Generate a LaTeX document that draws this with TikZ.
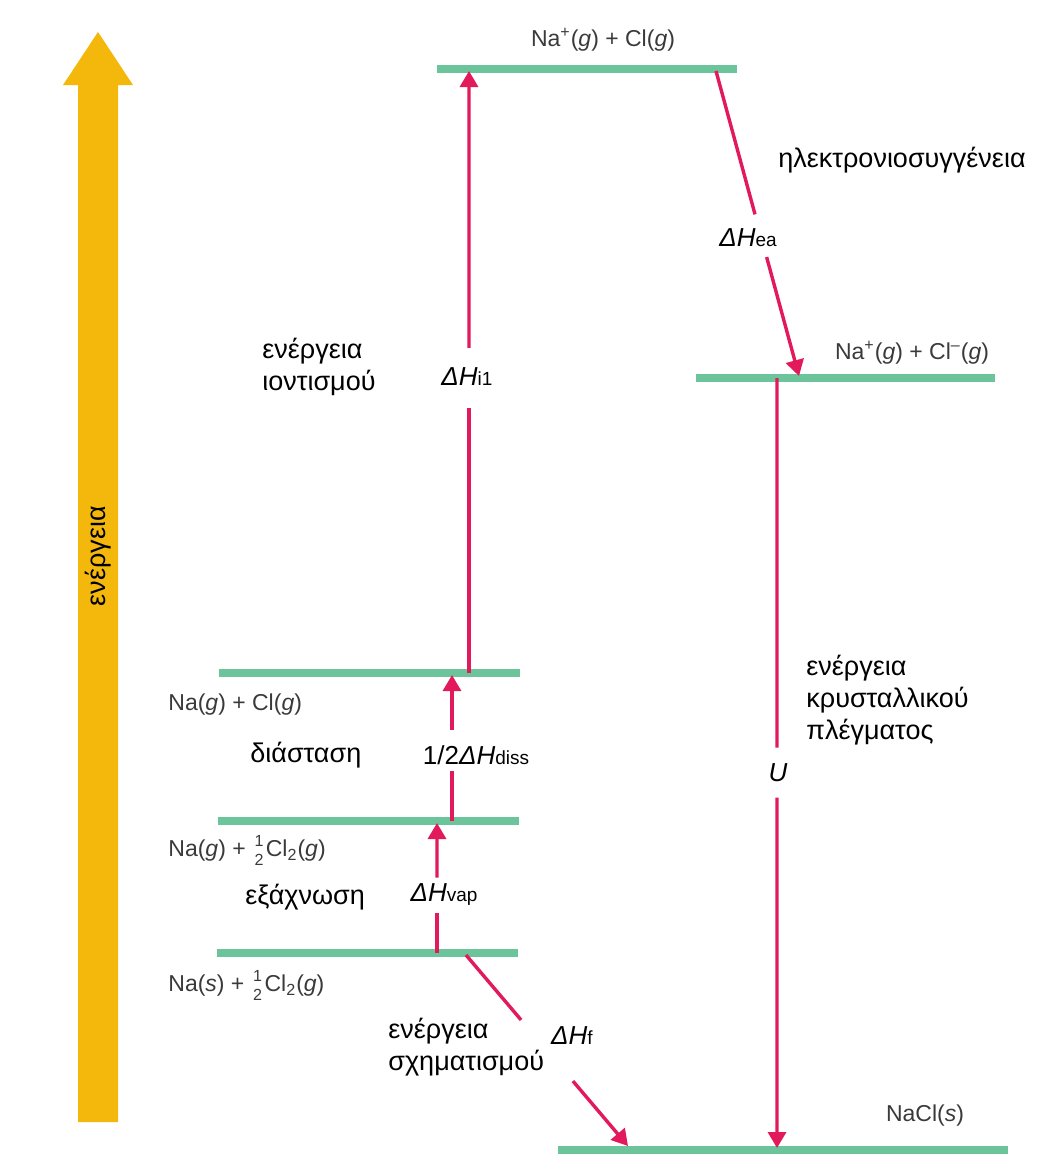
\documentclass[tikz,border=0pt]{standalone}
\usepackage{fontspec}
\usepackage{amsmath}
\setmainfont{Liberation Sans}
\setsansfont{Liberation Sans}
\usetikzlibrary{arrows.meta,calc}
\definecolor{lvgreen}{HTML}{6CC49A}
\definecolor{arrred}{HTML}{E2195B}
\definecolor{engyellow}{HTML}{F4B80C}
\definecolor{chemgray}{HTML}{3A3A3A}
\tikzset{%
  tipR/.tip={Triangle[length=8pt,width=9pt]},
  level/.style={lvgreen, line width=3.6pt},
  rline/.style={arrred, line width=1.7pt},
  rarr/.style={rline, -tipR},
  chem/.style={text=chemgray, font=\fontsize{11.5}{14}\selectfont, inner sep=0pt},
  greek/.style={font=\fontsize{13.5}{16}\selectfont, align=left, inner sep=0pt},
  dlab/.style={font=\fontsize{13}{16}\selectfont, inner sep=0pt}
}
\newcommand{\dHsub}[1]{\textit{ΔH}{\fontsize{9.5}{12}\selectfont #1}}
\newcommand{\halfsf}{\genfrac{}{}{0pt}{1}{\text{1}}{\text{2}}}

\begin{document}
\begin{tikzpicture}[x=0.5pt,y=-0.5pt]
\useasboundingbox (0,0) rectangle (1037,1167);
% energy axis
\fill[engyellow] (78,1122) -- (78,85) -- (63,85) -- (98,32) -- (133,85) -- (118,85) -- (118,1122) -- cycle;
\node[greek, rotate=90] (axis) at (98,556) {ενέργεια};
% levels
\coordinate (l1w) at (437,69);  \coordinate (l1e) at (737,69);
\coordinate (l2w) at (696,378); \coordinate (l2e) at (995,378);
\coordinate (l3w) at (219,673); \coordinate (l3e) at (520,673);
\coordinate (l4w) at (218,821); \coordinate (l4e) at (519,821);
\coordinate (l5w) at (217,953); \coordinate (l5e) at (518,953);
\coordinate (l6w) at (558,1150); \coordinate (l6e) at (1008,1150);
\draw[level] (l1w) -- (l1e);
\draw[level] (l2w) -- (l2e);
\draw[level] (l3w) -- (l3e);
\draw[level] (l4w) -- (l4e);
\draw[level] (l5w) -- (l5e);
\draw[level] (l6w) -- (l6e);
% arrow ends
\coordinate (vap-a) at (437,953);  \coordinate (vap-b) at (437,823);
\coordinate (diss-a) at (452,821); \coordinate (diss-b) at (452,675);
\coordinate (i1-a) at (469,673);   \coordinate (i1-b) at (469,71);
\coordinate (ea-a) at (716,71);    \coordinate (ea-b) at (799,376);
\coordinate (u-a) at (777,378);    \coordinate (u-b) at (777,1148);
\coordinate (f-a) at (466,955);    \coordinate (f-b) at (628,1146);
% arrows, broken where the label sits
\draw[rline] (vap-a) -- ($(vap-a)!.31!(vap-b)$);
\draw[rarr] ($(vap-a)!.58!(vap-b)$) -- (vap-b);
\draw[rline] (diss-a) -- ($(diss-a)!.34!(diss-b)$);
\draw[rarr] ($(diss-a)!.62!(diss-b)$) -- (diss-b);
\draw[rline] (i1-a) -- ($(i1-a)!.44!(i1-b)$);
\draw[rarr] ($(i1-a)!.54!(i1-b)$) -- (i1-b);
\draw[rline] (ea-a) -- ($(ea-a)!.47!(ea-b)$);
\draw[rarr] ($(ea-a)!.61!(ea-b)$) -- (ea-b);
\draw[rline] (u-a) -- ($(u-a)!.48!(u-b)$);
\draw[rarr] ($(u-a)!.545!(u-b)$) -- (u-b);
\draw[rline] (f-a) -- ($(f-a)!.34!(f-b)$);
\draw[rarr] ($(f-a)!.66!(f-b)$) -- (f-b);
% species
\node[chem] (top1) at (603,40) {Na\textsuperscript{+}(\textit{g}) + Cl(\textit{g})};
\node[chem] (top2) at (912,353) {Na\textsuperscript{+}(\textit{g}) + Cl\textsuperscript{–}(\textit{g})};
\node[chem, anchor=west] (lv3) at (168,705) {Na(\textit{g}) + Cl(\textit{g})};
\node[chem, anchor=west] (lv4) at (168,850) {Na(\textit{g}) + $\halfsf$Cl$_{\text{2}}$(\textit{g})};
\node[chem, anchor=west] (lv5) at (168,985) {Na(\textit{s}) + $\halfsf$Cl$_{\text{2}}$(\textit{g})};
\node[chem] (lv6) at (925,1116) {NaCl(\textit{s})};
% step names
\node[greek, anchor=west] (ea-t) at (778,160) {ηλεκτρονιοσυγγένεια};
\node[greek, anchor=west] (ion-t) at (262,367) {ενέργεια\\ιοντισμού};
\node[greek, anchor=west] (lat-t) at (806,700) {ενέργεια\\κρυσταλλικού\\πλέγματος};
\node[greek, anchor=west] (diss-t) at (250,755) {διάσταση};
\node[greek, anchor=west] (vap-t) at (245,897) {εξάχνωση};
\node[greek, anchor=west] (form-t) at (388,1047) {ενέργεια\\σχηματισμού};
% enthalpy labels
\node[dlab] (vap-l) at (444,895) {\dHsub{vap}};
\node[dlab] (diss-l) at (476,755) {1/2\dHsub{diss}};
\node[dlab] (i1-l) at (467,377) {\dHsub{i1}};
\node[dlab] (ea-l) at (748,238) {\dHsub{ea}};
\node[dlab] (u-l) at (778,773) {\textit{U}};
\node[dlab] (f-l) at (572,1036) {\dHsub{f}};
\end{tikzpicture}
\end{document}
